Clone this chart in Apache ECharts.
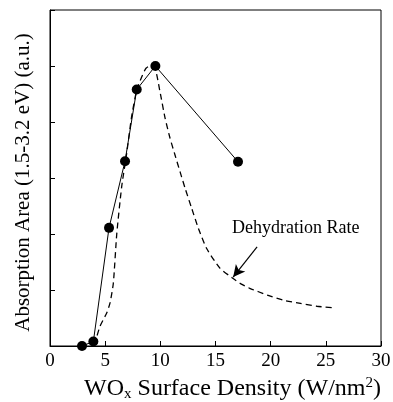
<!DOCTYPE html>
<html><head><meta charset="utf-8">
<script src="https://cdn.jsdelivr.net/npm/echarts@6/dist/echarts.min.js"></script>
<style>html,body{margin:0;padding:0;background:#fff}#c{width:393px;height:402px}</style>
</head><body><div id="c"></div>
<script>
const xTicks = [0, 5, 10, 15, 20, 25, 30];
const absorptionX = [2.9, 3.93, 5.35, 6.8, 7.86, 9.55, 17.04];
const absorptionY = [0.0, 0.08, 2.11, 3.3, 4.58, 5.0, 3.29];
const dehydrationX = [3.9, 4.08, 4.53, 5.14, 5.44, 5.74, 6.05, 6.5, 6.95, 7.4, 7.86, 8.3, 8.7, 9.07, 9.52, 9.97, 10.43, 10.88, 11.33, 11.79, 12.24, 12.84, 13.45, 14.2, 15.4, 16.5, 17.3, 18.1, 19.7, 21.1, 22.7, 24.2, 25.8];
const dehydrationY = [0.03, 0.07, 0.35, 0.59, 0.77, 1.12, 2.0, 2.85, 3.44, 4.1, 4.57, 4.8, 4.96, 5.0, 4.96, 4.54, 4.07, 3.71, 3.41, 3.11, 2.82, 2.46, 2.10, 1.74, 1.39, 1.22, 1.11, 1.03, 0.91, 0.82, 0.76, 0.71, 0.68];
const annotationText = 'Dehydration Rate';
const arrowFrom = [18.77, 1.77];
const arrowTo = [16.6, 1.23];

const font = '"Liberation Serif","Times New Roman",serif';
const chart = echarts.init(document.getElementById('c'));
chart.setOption({
  animation: false,
  backgroundColor: '#fff',
  grid: {left: 50, top: 10, right: 12, bottom: 56, show: true, borderColor: '#000', borderWidth: 1, containLabel: false, outerBoundsMode: 'none'},
  xAxis: {
    type: 'value', min: 0, max: 30, interval: 5,
    axisLine: {lineStyle: {color: '#000', width: 1}},
    axisTick: {inside: true, length: 5, lineStyle: {color: '#000'}},
    splitLine: {show: false},
    axisLabel: {color: '#000', fontFamily: font, fontSize: 19, margin: 6,
      formatter: v => xTicks.includes(v) ? String(v) : ''},
    name: '{n|WO}{sub|x}{n| Surface Density (W/nm}{sup|2}{n|)}',
    nameLocation: 'middle', nameGap: 29,
    nameTextStyle: {
      padding: [0, 0, 0, 34],
      rich: {
        n: {fontFamily: font, fontSize: 24, color: '#000'},
        sub: {fontFamily: font, fontSize: 15, color: '#000', verticalAlign: 'bottom', padding: [11, 0, 0, 0]},
        sup: {fontFamily: font, fontSize: 15, color: '#000', verticalAlign: 'top', padding: [0, 0, 11, 0]}
      }
    }
  },
  yAxis: {
    type: 'value', min: 0, max: 6, interval: 1,
    axisLine: {show: true, lineStyle: {color: '#000', width: 1}},
    axisTick: {show: true, inside: true, length: 5, lineStyle: {color: '#000'}},
    splitLine: {show: false},
    axisLabel: {show: false},
    name: 'Absorption Area (1.5-3.2 eV) (a.u.)',
    nameLocation: 'middle', nameGap: 16,
    nameTextStyle: {fontFamily: font, fontSize: 21, color: '#000', padding: [0, 9, 0, 0]}
  },
  series: [
    {
      type: 'line',
      data: absorptionX.map((x, i) => [x, absorptionY[i]]),
      symbol: 'circle', symbolSize: 10,
      itemStyle: {color: '#000'},
      lineStyle: {color: '#000', width: 1},
      z: 3
    },
    {
      type: 'line',
      data: dehydrationX.map((x, i) => [x, dehydrationY[i]]),
      symbol: 'none', smooth: 0.2,
      lineStyle: {color: '#000', width: 1.3, type: [6, 4]},
      markLine: {
        silent: true, symbol: ['none', 'arrow'], symbolSize: [9, 12],
        lineStyle: {color: '#000', width: 1.2, type: 'solid'},
        label: {show: false},
        data: [[{coord: arrowFrom}, {coord: arrowTo}]]
      },
      z: 2
    }
  ],
  graphic: [{
    type: 'text', left: 232, top: 219,
    style: {text: annotationText, fontFamily: font, fontSize: 18, fill: '#000'}
  }]
});
</script></body></html>
